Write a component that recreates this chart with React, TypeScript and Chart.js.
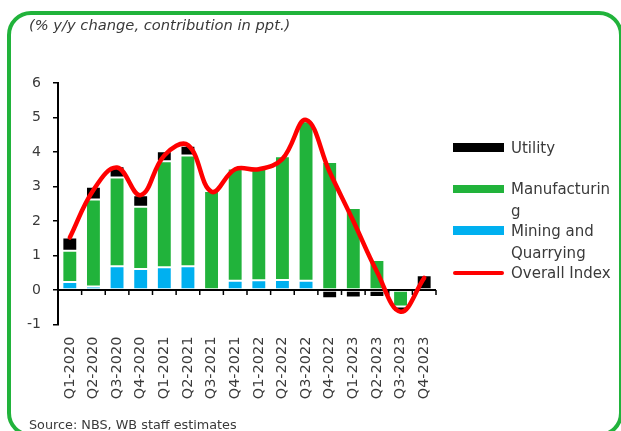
import React, { useEffect, useRef } from "react";
import { Chart, registerables } from "chart.js";

Chart.register(...registerables);

const categories = [
  "Q1-2020", "Q2-2020", "Q3-2020", "Q4-2020",
  "Q1-2021", "Q2-2021", "Q3-2021", "Q4-2021",
  "Q1-2022", "Q2-2022", "Q3-2022", "Q4-2022",
  "Q1-2023", "Q2-2023", "Q3-2023", "Q4-2023",
];
const mining = [0.23, 0.1, 0.69, 0.61, 0.66, 0.69, 0, 0.27, 0.28, 0.29, 0.27, 0, 0, 0, 0, 0];
const manufacturing = [0.91, 2.52, 2.57, 1.8, 3.07, 3.21, 2.87, 3.25, 3.24, 3.59, 4.62, 3.71, 2.38, 0.87, -0.48, 0];
const utility = [0.38, 0.37, 0.33, 0.34, 0.29, 0.28, 0, 0, 0, 0, 0, -0.24, -0.22, -0.2, -0.14, 0.43];
const overall = [1.52, 2.9, 3.55, 2.75, 3.9, 4.2, 2.85, 3.5, 3.5, 3.8, 4.93, 3.42, 2.0, 0.53, -0.63, 0.35];
const yMin = -1;
const yMax = 6;

const GREEN = "#21b33b";
const BLUE = "#00b0f0";
const BLACK = "#000000";
const RED = "#ff0000";
const TEXT = "#3a3a3a";
const FONT = "'DejaVu Sans', 'Noto Sans', sans-serif";

const zeroAxisPlugin = {
  id: "zeroAxis",
  beforeDatasetDraw(chart: any, args: any) {
    if (args.meta.type !== "line") return;
    const { ctx, chartArea, scales } = chart;
    const x = scales.x;
    const y = scales.y;
    const y0 = y.getPixelForValue(0);
    const half = (x.getPixelForValue(1) - x.getPixelForValue(0)) / 2;
    ctx.save();
    ctx.strokeStyle = "#000";
    ctx.lineWidth = 2;
    ctx.beginPath();
    ctx.moveTo(chartArea.left, y0);
    ctx.lineTo(chartArea.right, y0);
    ctx.stroke();
    ctx.lineWidth = 1.5;
    for (let i = 0; i <= categories.length; i++) {
      const px = x.getPixelForValue(i) - half;
      ctx.beginPath();
      ctx.moveTo(px, y0);
      ctx.lineTo(px, y0 + 5);
      ctx.stroke();
    }
    ctx.restore();
  },
};

export default function App() {
  const ref = useRef<HTMLCanvasElement | null>(null);

  useEffect(() => {
    if (!ref.current) return;
    Chart.defaults.font.family = FONT;
    const barCommon = {
      type: "bar" as const,
      borderColor: "rgba(255,255,255,0.55)",
      borderWidth: 1,
      borderSkipped: false,
      categoryPercentage: 1,
      barPercentage: 0.63,
      order: 1,
      stack: "s",
    };
    const chart = new Chart(ref.current, {
      type: "bar",
      data: {
        labels: categories,
        datasets: [
          { ...barCommon, label: "Mining and Quarrying", data: mining, backgroundColor: BLUE },
          { ...barCommon, label: "Manufacturing", data: manufacturing, backgroundColor: GREEN },
          { ...barCommon, label: "Utility", data: utility, backgroundColor: BLACK },
          {
            type: "line",
            label: "Overall Index",
            data: overall,
            borderColor: RED,
            backgroundColor: RED,
            borderWidth: 4.5,
            tension: 0.4,
            pointRadius: 0,
            borderCapStyle: "round",
            borderJoinStyle: "round",
            order: 0,
          } as any,
        ],
      },
      options: {
        responsive: false,
        animation: false,
        devicePixelRatio: 1,
        layout: { padding: { left: 18, right: 185, top: 83, bottom: 6.5 } },
        plugins: {
          legend: { display: false },
          tooltip: { enabled: false },
        },
        scales: {
          x: {
            stacked: true,
            offset: true,
            grid: { display: false, drawTicks: false },
            border: { display: false },
            afterFit: (s: any) => {
              s.height = 100;
            },
            ticks: {
              autoSkip: false,
              minRotation: 90,
              maxRotation: 90,
              padding: 12,
              color: TEXT,
              font: { size: 14.5, family: FONT },
            },
          },
          y: {
            stacked: true,
            min: yMin,
            max: yMax,
            afterFit: (s: any) => {
              s.width = 40;
            },
            grid: {
              display: true,
              drawOnChartArea: false,
              drawTicks: true,
              tickLength: 5,
              color: "#000",
              lineWidth: 1.5,
            },
            border: { display: true, color: "#000", width: 2 },
            ticks: {
              stepSize: 1,
              padding: 12,
              color: TEXT,
              font: { size: 14, family: FONT },
            },
          },
        },
      },
      plugins: [zeroAxisPlugin],
    } as any);
    return () => chart.destroy();
  }, []);

  const legendText: React.CSSProperties = {
    position: "absolute",
    left: 511,
    height: 22,
    lineHeight: "22px",
    fontSize: 15,
    color: TEXT,
    whiteSpace: "nowrap",
    fontFamily: FONT,
  };
  const box = (top: number, h: number, color: string): React.CSSProperties => ({
    position: "absolute",
    left: 453,
    top,
    width: 51,
    height: h,
    background: color,
  });

  return (
    <div
      style={{
        position: "absolute",
        left: 0,
        top: 0,
        width: 621,
        height: 431,
        overflow: "hidden",
        background: "#fff",
        fontFamily: FONT,
      }}
    >
      <div
        style={{
          position: "absolute",
          left: 7,
          top: 11,
          width: 616,
          height: 426,
          boxSizing: "border-box",
          border: `4px solid ${GREEN}`,
          borderRadius: 24,
        }}
      />
      <canvas ref={ref} width={621} height={431} style={{ position: "absolute", left: 0, top: 0 }} />
      <div
        style={{
          position: "absolute",
          left: 29,
          top: 14,
          fontSize: 14.7,
          fontStyle: "italic",
          color: TEXT,
          lineHeight: "22px",
          whiteSpace: "nowrap",
        }}
      >
        (% y/y change, contribution in ppt.)
      </div>
      <div
        style={{
          position: "absolute",
          left: 29,
          top: 415,
          fontSize: 12.8,
          color: TEXT,
          lineHeight: "20px",
          whiteSpace: "nowrap",
        }}
      >
        Source: NBS, WB staff estimates
      </div>
      <div style={box(143, 9, BLACK)} />
      <div style={{ ...legendText, top: 137 }}>Utility</div>
      <div style={box(184.5, 8, GREEN)} />
      <div style={{ ...legendText, top: 178 }}>Manufacturin</div>
      <div style={{ ...legendText, top: 200 }}>g</div>
      <div style={box(226, 9, BLUE)} />
      <div style={{ ...legendText, top: 220 }}>Mining and</div>
      <div style={{ ...legendText, top: 242 }}>Quarrying</div>
      <div
        style={{
          position: "absolute",
          left: 453,
          top: 271,
          width: 51,
          height: 4,
          borderRadius: 2,
          background: RED,
        }}
      />
      <div style={{ ...legendText, top: 262 }}>Overall Index</div>
    </div>
  );
}
